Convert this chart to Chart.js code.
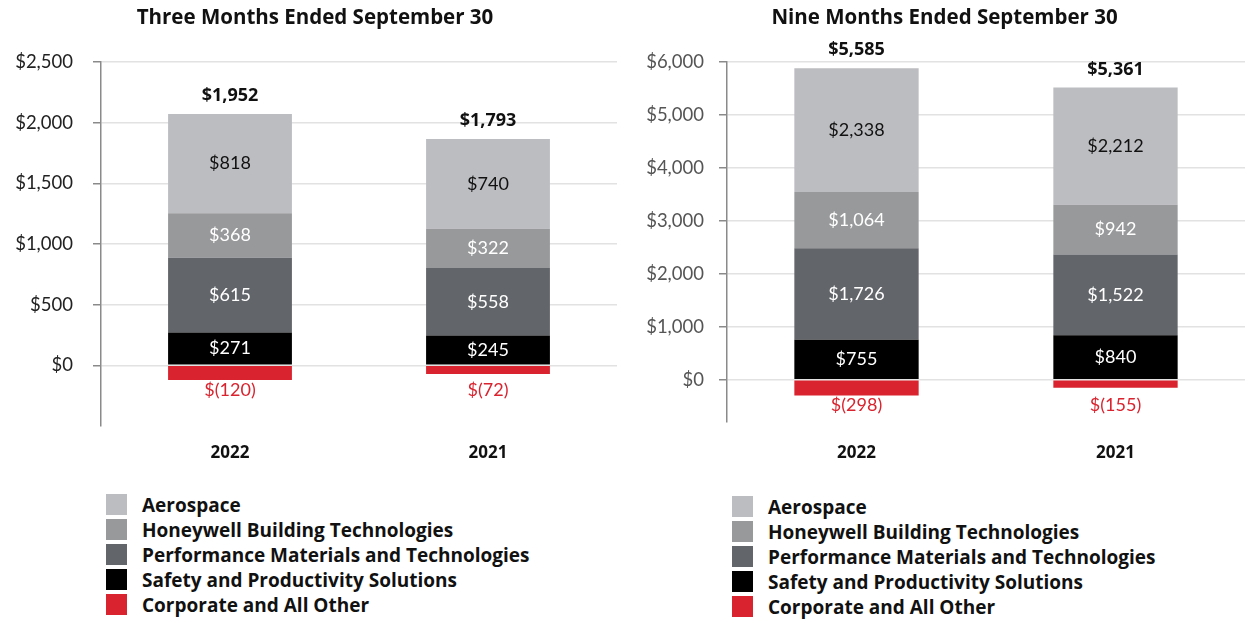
<!DOCTYPE html>
<html lang="en">
<head>
    <meta charset="UTF-8">
    <title>Segment Profit</title>
    <script src="https://cdn.jsdelivr.net/npm/chart.js"></script>
    <style>
        body { margin: 0; background: #fff; font-family: Lato, sans-serif; }
        #wrap { position: relative; width: 1250px; height: 623px; }
        .panel { position: absolute; top: 0; height: 475px; }
        .legend { position: absolute; list-style: none; margin: 0; padding: 0; }
        .legend li { height: 25px; display: flex; align-items: center; font-family: 'Open Sans', sans-serif; font-weight: 700; font-size: 19px; color: #111; }
        .legend span { width: 21px; height: 21px; margin-right: 15px; flex: none; }
    </style>
</head>
<body>
<div id="wrap">
    <div class="panel" style="left:0; width:625px;"><canvas id="q3Chart"></canvas></div>
    <div class="panel" style="left:626px; width:624px;"><canvas id="ytdChart"></canvas></div>
    <ul class="legend" id="q3Legend" style="left:106px; top:492px;"></ul>
    <ul class="legend" id="ytdLegend" style="left:732px; top:494px;"></ul>
</div>
<script>
    const years = ['2022', '2021'];
    const segments = ['Aerospace', 'Honeywell Building Technologies', 'Performance Materials and Technologies',
        'Safety and Productivity Solutions', 'Corporate and All Other'];
    const segmentColors = ['#bcbdc0', '#98999b', '#626569', '#000000', '#d9232e'];
    const labelColors = ['#111111', '#ffffff', '#ffffff', '#ffffff', '#d9232e'];

    // Three months ended September 30
    const q3Aerospace = [818, 740];
    const q3Building = [368, 322];
    const q3Materials = [615, 558];
    const q3Safety = [271, 245];
    const q3Corporate = [-120, -72];
    const q3Totals = [1952, 1793];
    const q3Ticks = [0, 500, 1000, 1500, 2000, 2500];

    // Nine months ended September 30
    const ytdAerospace = [2338, 2212];
    const ytdBuilding = [1064, 942];
    const ytdMaterials = [1726, 1522];
    const ytdSafety = [755, 840];
    const ytdCorporate = [-298, -155];
    const ytdTotals = [5585, 5361];
    const ytdTicks = [0, 1000, 2000, 3000, 4000, 5000, 6000];

    function money(v) {
        const s = Math.abs(v).toLocaleString('en-US');
        return v < 0 ? '$(' + s + ')' : '$' + s;
    }

    // labels inside the segments, under the negative bars and totals on top
    const barLabels = {
        id: 'barLabels',
        afterDatasetsDraw(chart, args, opts) {
            const ctx = chart.ctx;
            ctx.save();
            ctx.textAlign = 'center';
            ctx.textBaseline = 'middle';
            let lowest = 0;
            chart.data.datasets.forEach((ds, i) => {
                chart.getDatasetMeta(i).data.forEach((bar, j) => {
                    if (ds.data[j] < 0) lowest = Math.max(lowest, bar.y);
                });
            });
            chart.data.datasets.forEach((ds, i) => {
                chart.getDatasetMeta(i).data.forEach((bar, j) => {
                    const v = ds.data[j];
                    ctx.font = '18px Lato';
                    ctx.fillStyle = ds.labelColor;
                    if (v < 0) {
                        ctx.fillText(money(v), bar.x, lowest + 10);
                    } else {
                        ctx.fillText(money(v), bar.x, (bar.y + bar.base) / 2);
                    }
                });
            });
            const topMeta = chart.getDatasetMeta(3);
            ctx.font = 'bold 18px "Open Sans"';
            ctx.fillStyle = '#111';
            topMeta.data.forEach((bar, j) => {
                ctx.fillText(money(opts.totals[j]), bar.x, bar.y - 18);
            });
            ctx.restore();
        }
    };

    function makeChart(id, title, stack, totals, ticks, min, max, padL, padR, yWidth, xHeight, xPad, tickPad, tickColor) {
        // stacking goes bottom-up, so datasets run from Safety to Aerospace, then Corporate
        const order = [3, 2, 1, 0, 4];
        const datasets = order.map(k => ({
            label: segments[k],
            data: stack[k],
            backgroundColor: segmentColors[k],
            labelColor: labelColors[k],
            borderWidth: 0,
            categoryPercentage: 1,
            barPercentage: 0.48
        }));
        return new Chart(document.getElementById(id), {
            type: 'bar',
            data: { labels: years, datasets: datasets },
            plugins: [barLabels],
            options: {
                responsive: true,
                maintainAspectRatio: false,
                animation: false,
                layout: { padding: { left: padL, right: padR, top: 0, bottom: 0 } },
                plugins: {
                    legend: { display: false },
                    tooltip: { enabled: false },
                    title: {
                        display: true,
                        text: title,
                        color: '#111',
                        font: { family: 'Open Sans', size: 20.5, weight: 'bold' },
                        padding: { top: 6, bottom: 31.4 }
                    },
                    barLabels: { totals: totals }
                },
                scales: {
                    x: {
                        stacked: true,
                        grid: { display: false, drawTicks: false },
                        border: { display: false },
                        ticks: { color: '#111', padding: xPad, font: { family: 'Open Sans', size: 17, weight: 'bold' } },
                        afterFit: s => { s.height = xHeight; }
                    },
                    y: {
                        stacked: true,
                        min: min,
                        max: max,
                        afterBuildTicks: s => { s.ticks = ticks.map(v => ({ value: v })); },
                        afterFit: s => { s.width = yWidth; },
                        grid: { color: '#e2e2e2', lineWidth: 1.5, tickLength: 8, tickColor: '#8a8a8a' },
                        border: { display: true, color: '#8a8a8a', width: 1.5 },
                        ticks: {
                            color: tickColor,
                            padding: tickPad,
                            font: { family: 'Lato', size: 18.5 },
                            callback: v => money(v)
                        }
                    }
                }
            }
        });
    }

    makeChart('q3Chart', 'Three Months Ended September 30',
        [q3Aerospace, q3Building, q3Materials, q3Safety, q3Corporate], q3Totals, q3Ticks,
        -500, 2500, 13, 8, 88, 49, 17, 20, '#222');
    makeChart('ytdChart', 'Nine Months Ended September 30',
        [ytdAerospace, ytdBuilding, ytdMaterials, ytdSafety, ytdCorporate], ytdTotals, ytdTicks,
        -800, 6000, 18, 5, 83, 53, 21, 15, '#555');

    function fillLegend(id) {
        const ul = document.getElementById(id);
        segments.forEach((name, k) => {
            const li = document.createElement('li');
            const box = document.createElement('span');
            box.style.background = segmentColors[k];
            li.appendChild(box);
            li.appendChild(document.createTextNode(name));
            ul.appendChild(li);
        });
    }
    fillLegend('q3Legend');
    fillLegend('ytdLegend');
</script>
</body>
</html>
